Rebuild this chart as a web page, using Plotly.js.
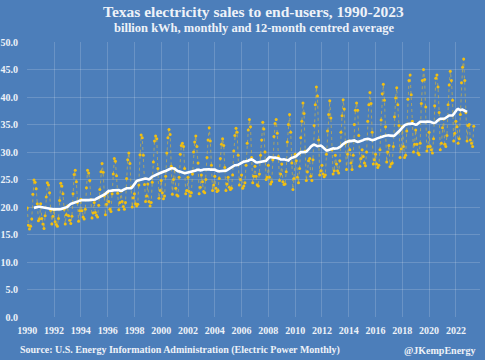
<!DOCTYPE html>
<html>
<head>
<meta charset="utf-8">
<script src="https://cdn.plot.ly/plotly-3.0.1.min.js"></script>
<style>html,body{margin:0;padding:0;background:#4c7eba;}#chart{width:485px;height:360px;}</style>
</head>
<body>
<div id="chart"></div>
<script>
// Monthly retail electricity sales, Texas, billion kWh
var startYear = 1990;
var sales1990 = [19.8,16.7,16.0,16.5,17.8,22.3,24.9,24.5,23.3,20.6,17.5,17.8];
var sales1991 = [20.6,17.9,16.9,16.1,18.4,21.8,24.4,24.0,22.6,19.4,16.9,18.3];
var sales1992 = [19.5,17.3,16.8,16.5,17.9,21.2,24.3,23.8,22.4,19.6,16.9,18.6];
var sales1993 = [20.2,18.4,17.6,17.0,18.3,22.4,25.9,26.7,24.6,20.8,17.4,19.3];
var sales1994 = [21.4,19.3,18.2,17.8,19.6,23.5,26.7,26.2,24.8,21.3,18.0,18.9];
var sales1995 = [20.8,19.0,18.5,18.2,20.3,23.2,26.4,27.9,26.3,22.0,18.6,20.5];
var sales1996 = [22.6,21.0,19.6,19.2,22.4,26.0,28.8,28.3,25.7,22.5,19.5,20.8];
var sales1997 = [22.9,21.0,20.1,19.6,20.8,25.2,28.6,29.8,27.9,23.6,20.0,21.7];
var sales1998 = [22.4,20.6,20.2,20.5,24.0,29.5,33.1,32.6,29.4,24.1,21.0,22.0];
var sales1999 = [24.2,21.0,20.2,20.8,24.5,28.2,32.0,32.9,32.4,27.0,21.6,23.0];
var sales2000 = [24.8,22.6,21.5,22.0,25.6,29.8,32.6,34.1,33.2,27.4,22.3,25.0];
var sales2001 = [27.0,23.4,22.2,22.0,25.4,29.6,31.2,31.6,31.0,27.0,22.4,23.0];
var sales2002 = [25.4,22.8,22.0,22.6,26.0,30.0,31.8,32.9,31.0,28.0,22.4,23.6];
var sales2003 = [25.8,24.6,22.8,22.6,25.0,29.0,32.2,34.4,32.0,27.6,23.0,24.0];
var sales2004 = [25.6,23.4,22.8,23.0,25.2,28.8,31.4,32.4,31.2,27.2,23.0,24.2];
var sales2005 = [25.4,23.6,23.2,23.4,25.8,30.2,33.0,34.3,33.6,29.4,24.0,25.0];
var sales2006 = [25.8,23.4,23.8,24.4,27.6,31.6,34.0,35.9,34.6,29.0,24.4,25.6];
var sales2007 = [27.4,25.6,24.0,23.8,26.0,29.4,32.2,35.4,34.2,30.0,25.0,25.4];
var sales2008 = [27.6,25.4,24.2,24.6,28.6,32.8,35.2,35.9,33.4,29.2,24.8,26.0];
var sales2009 = [27.8,24.6,24.1,24.2,26.4,31.8,35.0,36.8,33.6,28.0,23.2,25.2];
var sales2010 = [29.6,28.4,25.4,24.4,27.0,32.6,35.6,38.9,37.0,30.2,24.8,26.4];
var sales2011 = [28.4,28.8,25.6,24.8,28.6,34.8,38.6,41.8,40.2,32.2,25.8,26.6];
var sales2012 = [27.6,26.0,25.5,25.8,29.6,33.8,36.8,39.3,36.2,30.4,26.0,26.6];
var sales2013 = [29.4,27.8,26.6,26.2,28.4,33.6,36.6,39.5,37.8,31.6,26.8,29.6];
var sales2014 = [32.0,30.4,28.0,26.8,29.4,35.0,37.6,38.9,37.6,33.0,27.4,28.8];
var sales2015 = [30.4,29.2,28.0,27.5,30.0,35.6,38.6,40.8,38.8,33.6,27.8,28.6];
var sales2016 = [29.6,27.8,27.2,27.6,30.4,35.8,40.6,42.3,39.4,34.6,28.2,30.0];
var sales2017 = [31.2,27.3,27.8,28.0,31.0,36.4,39.8,41.7,38.6,34.8,29.0,30.6];
var sales2018 = [34.6,31.0,29.0,29.4,33.8,39.6,43.0,44.0,40.4,35.6,30.0,31.4];
var sales2019 = [34.0,31.4,29.8,29.5,31.6,38.8,43.0,45.0,43.2,38.2,30.2,31.0];
var sales2020 = [33.6,31.0,30.4,29.8,32.4,38.4,43.4,44.0,41.8,37.2,30.4,31.6];
var sales2021 = [34.4,36.0,31.4,31.0,33.0,38.6,42.2,44.7,43.0,39.4,32.0,33.4];
var sales2022 = [35.6,34.6,31.6,32.4,36.8,42.6,45.4,46.9,43.0,37.2,32.0,34.8];
var sales2023 = [35.0,32.2,31.6,31.0,34.7];

var yTickValues = [0,5,10,15,20,25,30,35,40,45,50];
var xTickYears = [1990,1992,1994,1996,1998,2000,2002,2004,2006,2008,2010,2012,2014,2016,2018,2020,2022];

var years = [sales1990,sales1991,sales1992,sales1993,sales1994,sales1995,sales1996,sales1997,
  sales1998,sales1999,sales2000,sales2001,sales2002,sales2003,sales2004,sales2005,sales2006,
  sales2007,sales2008,sales2009,sales2010,sales2011,sales2012,sales2013,sales2014,sales2015,
  sales2016,sales2017,sales2018,sales2019,sales2020,sales2021,sales2022,sales2023];

var xs = [], ys = [];
years.forEach(function(arr, yi){
  arr.forEach(function(v, m){ xs.push(startYear + yi + m/12); ys.push(v); });
});

// 12-month centred (2x12) moving average computed from the monthly data
var maX = [], maY = [];
for (var t = 6; t < ys.length - 6; t++) {
  var s = 0.5*ys[t-6] + 0.5*ys[t+6];
  for (var k = t-5; k <= t+5; k++) s += ys[k];
  maX.push(xs[t]); maY.push(s/12);
}

var txt = '#eef2f8';
var fontFam = '"Liberation Serif", "DejaVu Serif", serif';

var traces = [
  {x: xs, y: ys, type: 'scatter', mode: 'lines+markers',
   line: {color: 'rgba(225,185,45,0.6)', width: 1, dash: 'dot'},
   marker: {color: '#f2bf10', size: 3},
   hoverinfo: 'skip', showlegend: false},
  {x: maX, y: maY, type: 'scatter', mode: 'lines',
   line: {color: '#ffffff', width: 2.6},
   hoverinfo: 'skip', showlegend: false}
];

var layout = {
  width: 485, height: 360,
  paper_bgcolor: '#4c7eba', plot_bgcolor: '#4c7eba',
  margin: {l: 27, r: 5, t: 42, b: 43},
  font: {family: fontFam, color: txt, size: 10},
  showlegend: false,
  xaxis: {range: [1989.98, 2023.8], tickvals: xTickYears, ticktext: xTickYears.map(String),
    showgrid: true, gridcolor: 'rgba(255,255,255,0.17)', gridwidth: 1,
    zeroline: false, showline: false, ticks: '', ticklabelstandoff: 6,
    tickfont: {family: fontFam, size: 10, color: txt, weight: 'bold'}},
  yaxis: {range: [0, 50], tickvals: yTickValues, ticktext: yTickValues.map(function(v){return v.toFixed(1);}),
    showgrid: true, gridcolor: 'rgba(255,255,255,0.17)', gridwidth: 1,
    zeroline: false, showline: false, ticks: '', ticklabelstandoff: 8,
    tickfont: {family: fontFam, size: 10, color: txt, weight: 'bold'}},
  annotations: [
    {text: '<b>Texas electricity sales to end-users, 1990-2023</b>', xref: 'paper', yref: 'paper',
     x: 0.5, y: 1, yshift: 30.5, xanchor: 'center', yanchor: 'middle', showarrow: false,
     font: {family: fontFam, size: 15.5, color: txt}},
    {text: '<b>billion kWh, monthly and 12-month centred average</b>', xref: 'paper', yref: 'paper',
     x: 0.5, y: 1, yshift: 14, xanchor: 'center', yanchor: 'middle', showarrow: false,
     font: {family: fontFam, size: 12.5, color: txt}},
    {text: '<b>Source: U.S. Energy Information Administration (Electric Power Monthly)</b>', xref: 'paper', yref: 'paper',
     x: 0, xshift: -9, y: 0, yshift: -33, xanchor: 'left', yanchor: 'middle', showarrow: false,
     font: {family: fontFam, size: 10, color: txt}},
    {text: '<b>@JKempEnergy</b>', xref: 'paper', yref: 'paper',
     x: 1, xshift: -2, y: 0, yshift: -33, xanchor: 'right', yanchor: 'middle', showarrow: false,
     font: {family: fontFam, size: 10, color: txt}}
  ]
};

Plotly.newPlot('chart', traces, layout, {displayModeBar: false, staticPlot: true});
</script>
</body>
</html>
